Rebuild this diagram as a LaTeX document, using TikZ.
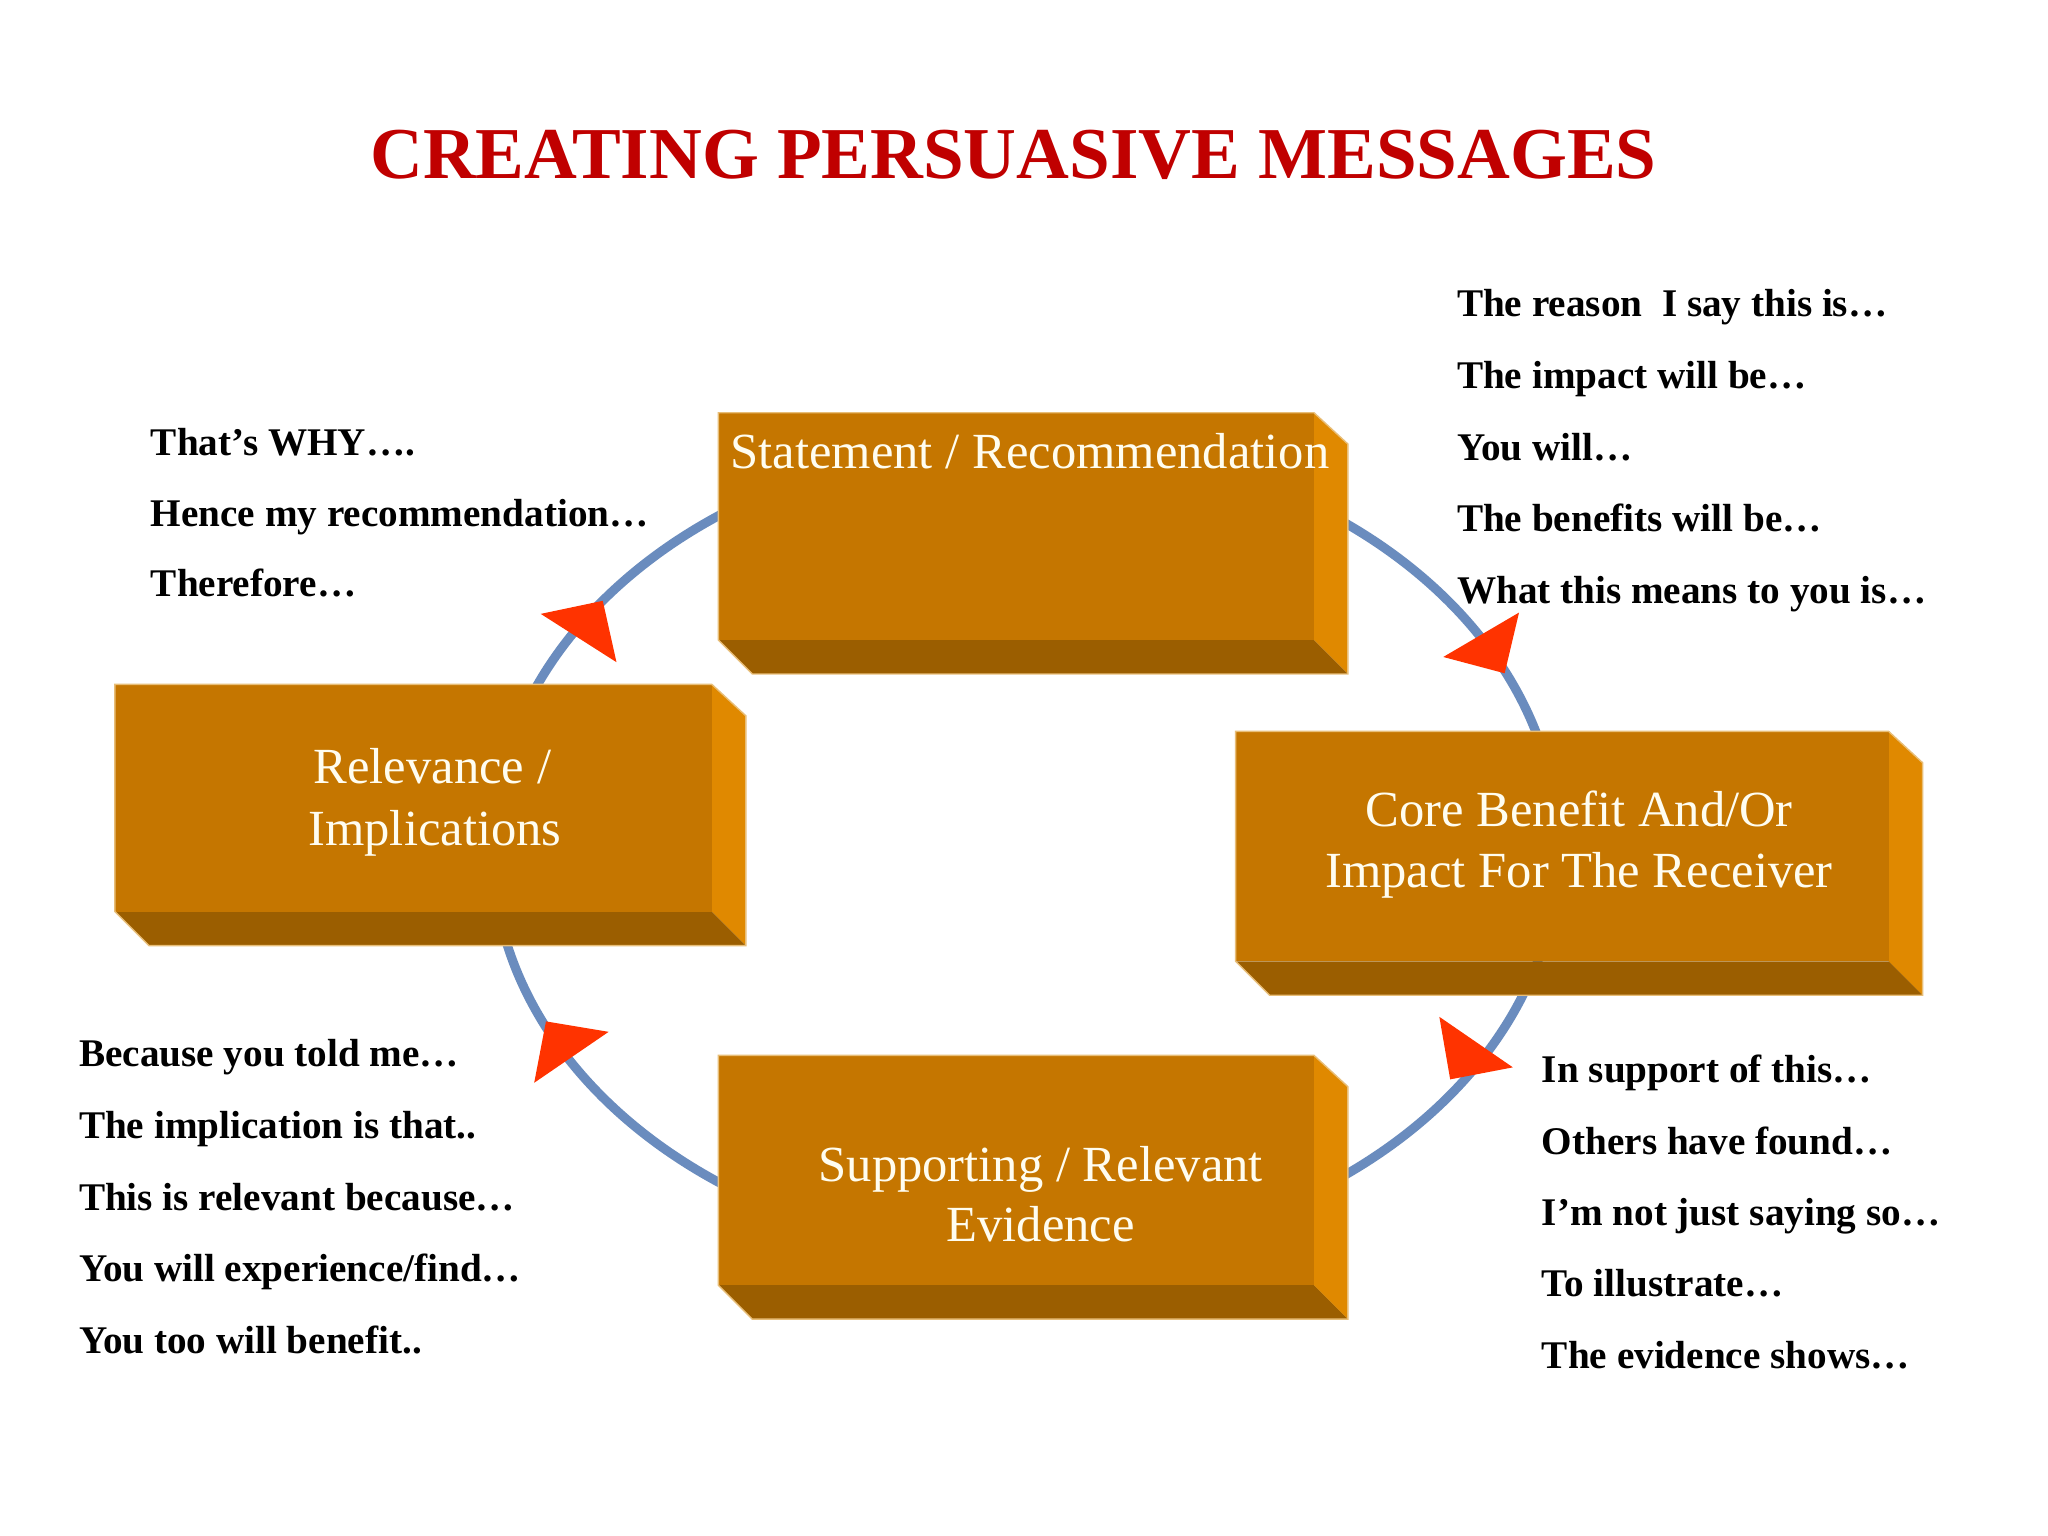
\documentclass[tikz,border=0pt]{standalone}
\usepackage{fontspec}
\setmainfont{Liberation Serif}
\definecolor{facefront}{RGB}{197,118,0}
\definecolor{faceright}{RGB}{224,137,0}
\definecolor{facebottom}{RGB}{155,94,0}
\definecolor{faceedge}{RGB}{232,190,120}
\definecolor{ringc}{RGB}{106,140,190}
\definecolor{arrowc}{RGB}{255,51,0}
\definecolor{titlec}{RGB}{192,0,0}
\definecolor{boxtextc}{RGB}{255,253,240}
\newcommand\bevelbox[4]{%
  \fill[faceright] (#3,#2) -- (#3+26,#2+24) -- (#3+26,#4+26) -- (#3,#4) -- cycle;
  \fill[facebottom] (#1,#4) -- (#3,#4) -- (#3+26,#4+26) -- (#1+26,#4+26) -- cycle;
  \fill[facefront] (#1,#2) rectangle (#3,#4);
  \draw[faceedge, line width=0.4pt] (#1,#2) -- (#3,#2) -- (#3+26,#2+24) -- (#3+26,#4+26) -- (#1+26,#4+26) -- (#1,#4) -- cycle;
}
\begin{document}
\begin{tikzpicture}[x=0.013061cm, y=-0.013061cm,
  sidetext/.style={anchor=base west, inner sep=0pt, font=\fontsize{11.15}{13}\selectfont\bfseries},
  boxtext/.style={anchor=base, inner sep=0pt, text=boxtextc, font=\fontsize{14.4}{17}\selectfont},
  ring/.style={draw=ringc, line width=2.6pt},
  arrowhead/.style={fill=arrowc},
  titletext/.style={anchor=base, inner sep=0pt, text=titlec, font=\fontsize{20.8}{25}\selectfont\bfseries}]
\fill[white] (0,0) rectangle (1568,1176);
\useasboundingbox (0,0) rectangle (1568,1176);

% title
\node[titletext] (title) at (776,137) {CREATING PERSUASIVE MESSAGES};

% ring
\draw[ring] (785,650) ellipse [x radius=408, y radius=312];

% boxes
\bevelbox{550}{316}{1006}{490}
\bevelbox{88}{524}{545}{698}
\bevelbox{946}{560}{1446}{736}
\bevelbox{550}{808}{1006}{984}

% arrowheads
\fill[arrowhead] (414,470) -- (461.5,460) -- (472,507) -- cycle;
\fill[arrowhead] (1163,469) -- (1105,503) -- (1152,515.5) -- cycle;
\fill[arrowhead] (1102,778.5) -- (1158.3,817.2) -- (1110.3,826.4) -- cycle;
\fill[arrowhead] (466,790) -- (409,829) -- (418,782) -- cycle;

% box texts
\node[boxtext] (stmt) at (788.5,358.6) {Statement / Recommendation};
\node[boxtext] (rel1) at (331,599.8) {Relevance /};
\node[boxtext] (rel2) at (333,647) {Implications};
\node[boxtext] (core1) at (1209,633) {Core Benefit And/Or};
\node[boxtext] (core2) at (1209,679.4) {Impact For The Receiver};
\node[boxtext] (sup1) at (796.8,904.7) {Supporting / Relevant};
\node[boxtext] (sup2) at (796.8,950.7) {Evidence};

% top-left phrases
\node[sidetext] (tl1) at (115,348.4) {That’s WHY….};
\node[sidetext] (tl2) at (115,402.8) {Hence my recommendation…};
\node[sidetext] (tl3) at (115,457) {Therefore…};

% top-right phrases
\node[sidetext] (tr1) at (1115,242.5) {The reason\ \ I say this is…};
\node[sidetext] (tr2) at (1115,297.3) {The impact will be…};
\node[sidetext] (tr3) at (1115,352.2) {You will…};
\node[sidetext] (tr4) at (1115,407.1) {The benefits will be…};
\node[sidetext] (tr5) at (1115,462) {What this means to you is…};

% bottom-left phrases
\node[sidetext] (bl1) at (60,816.7) {Because you told me…};
\node[sidetext] (bl2) at (60,871.6) {The implication is that..};
\node[sidetext] (bl3) at (60,926.5) {This is relevant because…};
\node[sidetext] (bl4) at (60,981.4) {You will experience/find…};
\node[sidetext] (bl5) at (60,1036.2) {You too will benefit..};

% bottom-right phrases
\node[sidetext] (br1) at (1180,829) {In support of this…};
\node[sidetext] (br2) at (1180,883.7) {Others have found…};
\node[sidetext] (br3) at (1180,938.4) {I’m not just saying so…};
\node[sidetext] (br4) at (1180,993) {To illustrate…};
\node[sidetext] (br5) at (1180,1047.6) {The evidence shows…};
\end{tikzpicture}
\end{document}
